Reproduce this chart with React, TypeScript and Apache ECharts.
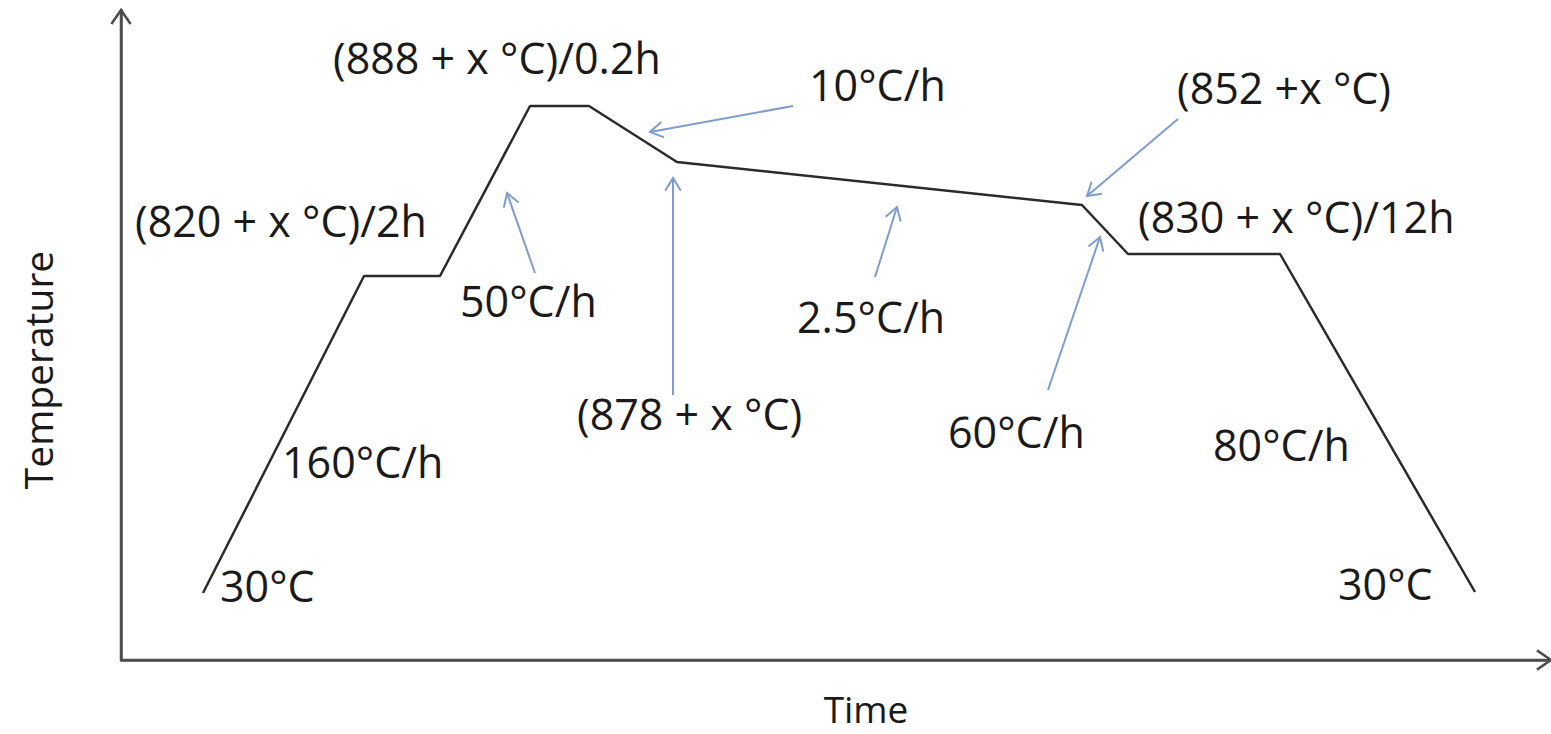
import React, { useEffect, useRef } from "react";
import * as echarts from "echarts";

// Heat-treatment profile (schematic units: time, temperature)
const profileTime = [8.2, 24.3, 31.9, 40.9, 46.8, 55.6, 96.1, 100.7, 115.9, 135.4];
const profileTemp = [6.7, 38.4, 38.4, 55.4, 55.4, 49.8, 45.5, 40.6, 40.6, 6.8];

// Annotation texts
const annotationTexts = [
  "(888 + x °C)/0.2h",
  "10°C/h",
  "(852 +x °C)",
  "(820 + x °C)/2h",
  "(830 + x °C)/12h",
  "50°C/h",
  "2.5°C/h",
  "(878 + x °C)",
  "60°C/h",
  "80°C/h",
  "160°C/h",
  "30°C",
  "30°C",
];

// Pointer arrows: tail -> head (time, temperature)
const arrowTailTime = [67.2, 41.4, 55.2, 75.4, 105.7, 92.7];
const arrowTailTemp = [55.4, 38.7, 26.5, 38.3, 54.1, 27.0];
const arrowHeadTime = [52.9, 38.6, 55.2, 77.6, 96.6, 97.9];
const arrowHeadTemp = [52.8, 46.7, 48.2, 45.3, 46.4, 42.3];

const timeMax = 143;
const tempMax = 65;

// layout: anchor (left, middle) of each annotation text, in chart coords
const annotationAnchors: number[][] = [
  [21.2, 60.3],
  [68.8, 57.6],
  [105.6, 57.3],
  [1.4, 44.0],
  [101.7, 44.4],
  [33.9, 36.0],
  [67.6, 34.4],
  [45.6, 24.7],
  [82.7, 22.9],
  [109.2, 21.6],
  [16.1, 19.9],
  [9.9, 7.5],
  [121.7, 7.7],
];

const FONT = "'Open Sans', 'DejaVu Sans', sans-serif";

function arrowRenderer(color: string, width: number, headLen: number, headAng: number) {
  return (params: any, api: any) => {
    const t = api.coord([api.value(0), api.value(1)]);
    const h = api.coord([api.value(2), api.value(3)]);
    const ang = Math.atan2(h[1] - t[1], h[0] - t[0]);
    const p1 = [h[0] - headLen * Math.cos(ang - headAng), h[1] - headLen * Math.sin(ang - headAng)];
    const p2 = [h[0] - headLen * Math.cos(ang + headAng), h[1] - headLen * Math.sin(ang + headAng)];
    return {
      type: "group",
      children: [
        {
          type: "line",
          shape: { x1: t[0], y1: t[1], x2: h[0], y2: h[1] },
          style: { stroke: color, lineWidth: width },
        },
        {
          type: "polyline",
          shape: { points: [p1, h, p2] },
          style: { stroke: color, lineWidth: width, fill: "none" },
        },
      ],
    };
  };
}

export default function App() {
  const ref = useRef<HTMLDivElement>(null);

  useEffect(() => {
    document.body.style.margin = "0";
    if (!ref.current) return;
    const chart = echarts.init(ref.current, undefined, { renderer: "svg" });

    const profileData = profileTime.map((t, i) => [t, profileTemp[i]]);
    const arrowData = arrowTailTime.map((t, i) => [t, arrowTailTemp[i], arrowHeadTime[i], arrowHeadTemp[i]]);
    const axisArrowData = [
      [0, 0, 0, tempMax],
      [0, 0, timeMax, 0],
    ];
    const labelData = annotationTexts.map((s, i) => ({
      value: [annotationAnchors[i][0], annotationAnchors[i][1]],
      name: s,
    }));

    chart.setOption({
      animation: false,
      backgroundColor: "#ffffff",
      grid: { left: 121, right: 0, top: 10, bottom: 74 },
      xAxis: {
        type: "value",
        min: 0,
        max: timeMax,
        name: "Time",
        nameLocation: "middle",
        nameGap: 30,
        nameTextStyle: { fontFamily: FONT, fontSize: 37, color: "#1a1a1a", padding: [0, 0, 0, 60] },
        axisLine: { show: true, lineStyle: { color: "#4d4d4d", width: 2.5 } },
        axisTick: { show: false },
        axisLabel: { show: false },
        splitLine: { show: false },
      },
      yAxis: {
        type: "value",
        min: 0,
        max: tempMax,
        name: "Temperature",
        nameLocation: "middle",
        nameGap: 64,
        nameTextStyle: { fontFamily: FONT, fontSize: 39, color: "#1a1a1a", padding: [0, 70, 0, 0] },
        axisLine: { show: true, lineStyle: { color: "#4d4d4d", width: 2.5 } },
        axisTick: { show: false },
        axisLabel: { show: false },
        splitLine: { show: false },
      },
      series: [
        {
          name: "Profile",
          type: "line",
          data: profileData,
          symbol: "none",
          lineStyle: { color: "#2b2b2b", width: 2.5 },
          z: 3,
        },
        {
          name: "AxisArrows",
          type: "custom",
          data: axisArrowData,
          renderItem: arrowRenderer("#4d4d4d", 2.5, 17, 0.6),
          z: 2,
        },
        {
          name: "Pointers",
          type: "custom",
          data: arrowData,
          renderItem: arrowRenderer("#7d9ccf", 2, 15, 0.55),
          z: 4,
        },
        {
          name: "Annotations",
          type: "custom",
          data: labelData,
          renderItem: (params: any, api: any) => {
            const p = api.coord([api.value(0), api.value(1)]);
            return {
              type: "text",
              x: p[0],
              y: p[1],
              style: {
                text: annotationTexts[params.dataIndex],
                font: `43px ${FONT}`,
                fill: "#1a1a1a",
                align: "left",
                verticalAlign: "middle",
              },
            };
          },
          z: 5,
        },
      ],
    });

    return () => chart.dispose();
  }, []);

  return <div ref={ref} style={{ width: 1551, height: 734 }} />;
}
